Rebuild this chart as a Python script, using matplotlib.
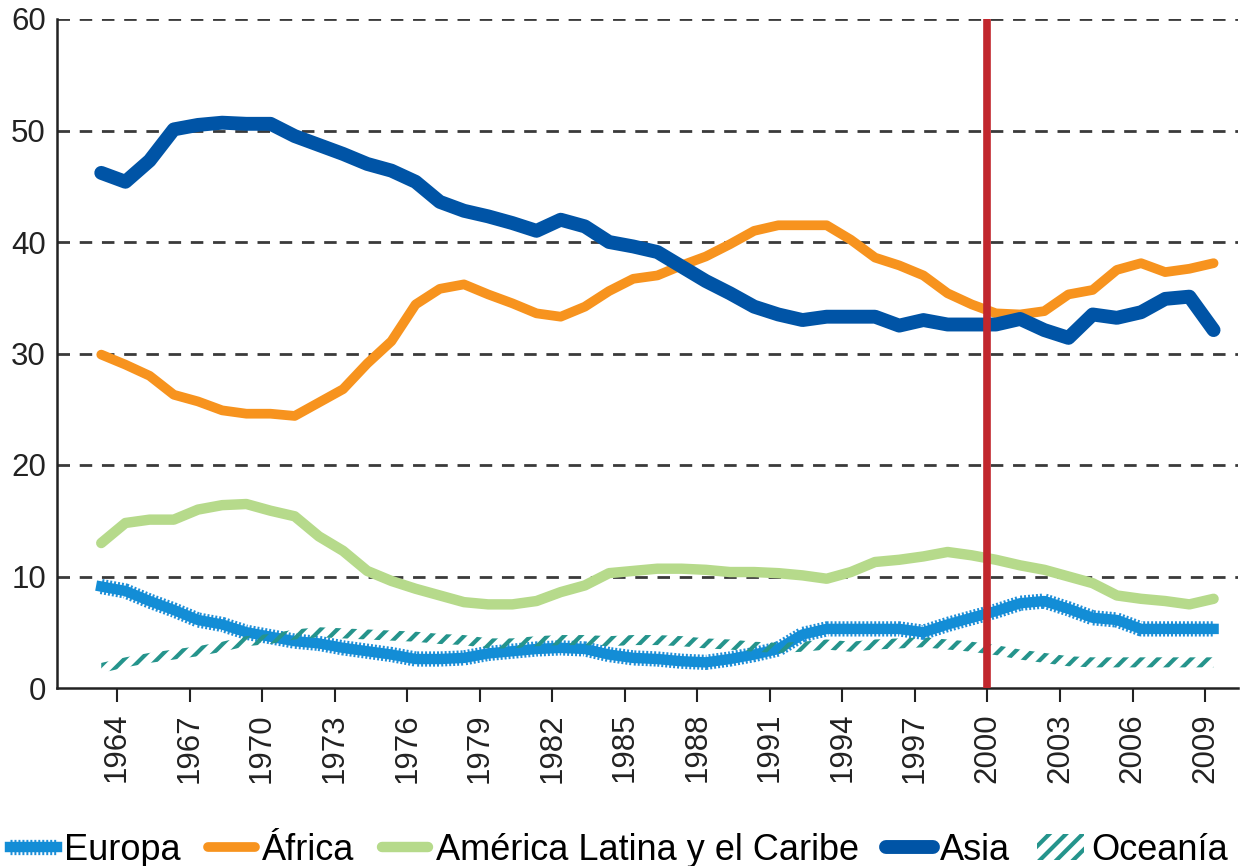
import numpy as np
import matplotlib
matplotlib.use("Agg")
import matplotlib.pyplot as plt

plt.rcParams['font.family'] = ['Liberation Sans', 'DejaVu Sans']
plt.rcParams['hatch.linewidth'] = 3.0

# data (share, %)
years = np.arange(1963, 2010)

europa = [9.1, 8.7, 7.8, 7.0, 6.1, 5.7, 5.0, 4.6, 4.2, 4.0,
          3.6, 3.3, 3.0, 2.6, 2.6, 2.7, 3.1, 3.3, 3.5, 3.6,
          3.5, 3.0, 2.7, 2.6, 2.4, 2.3, 2.6, 3.0, 3.5, 4.8,
          5.3, 5.3, 5.3, 5.3, 5.0, 5.7, 6.3, 6.9, 7.6, 7.8,
          7.1, 6.3, 6.1, 5.3, 5.3, 5.3, 5.3]
africa = [29.9, 29.0, 28.0, 26.3, 25.7, 24.9, 24.6, 24.6, 24.4, 25.6,
          26.8, 29.1, 31.1, 34.4, 35.8, 36.2, 35.3, 34.5, 33.6, 33.3,
          34.2, 35.6, 36.7, 37.0, 37.9, 38.7, 39.8, 41.0, 41.5, 41.5,
          41.5, 40.2, 38.6, 37.9, 37.0, 35.4, 34.4, 33.6, 33.5, 33.8,
          35.3, 35.7, 37.5, 38.1, 37.3, 37.6, 38.1]
america = [13.0, 14.8, 15.1, 15.1, 16.0, 16.4, 16.5, 15.9, 15.4, 13.6,
           12.3, 10.5, 9.6, 8.9, 8.3, 7.7, 7.5, 7.5, 7.8, 8.6,
           9.2, 10.3, 10.5, 10.7, 10.7, 10.6, 10.4, 10.4, 10.3, 10.1,
           9.8, 10.4, 11.3, 11.5, 11.8, 12.2, 11.9, 11.5, 11.0, 10.6,
           10.0, 9.4, 8.3, 8.0, 7.8, 7.5, 8.0]
asia = [46.2, 45.4, 47.3, 50.1, 50.5, 50.7, 50.6, 50.6, 49.5, 48.7,
        47.9, 47.0, 46.4, 45.4, 43.6, 42.8, 42.3, 41.7, 41.0, 42.0,
        41.4, 40.0, 39.6, 39.1, 37.8, 36.5, 35.4, 34.2, 33.5, 33.0,
        33.3, 33.3, 33.3, 32.5, 33.0, 32.6, 32.6, 32.6, 33.1, 32.1,
        31.4, 33.5, 33.2, 33.7, 34.9, 35.1, 32.1]
oceania = [1.8, 2.3, 2.7, 3.0, 3.3, 3.7, 4.2, 4.4, 4.8, 5.0,
           4.9, 4.8, 4.7, 4.6, 4.4, 4.3, 4.0, 4.0, 4.2, 4.3,
           4.3, 4.2, 4.3, 4.3, 4.2, 4.0, 3.9, 3.7, 3.6, 3.7,
           3.9, 3.7, 3.9, 4.0, 4.1, 3.9, 3.7, 3.4, 3.0, 2.7,
           2.4, 2.3, 2.3, 2.3, 2.3, 2.3, 2.3]

tick_years = np.arange(1964, 2010, 3)
y_ticks = [0, 10, 20, 30, 40, 50, 60]
marker_year = 2000

labels = ["Europa", "África", "América Latina y el Caribe", "Asia", "Oceanía"]

# points sit a bit right of the year ticks in the original
x = years + 0.35

fig = plt.figure(figsize=(12.53, 8.66), dpi=100)
ax = fig.add_axes([57 / 1253, 1 - 688 / 866, (1238 - 57) / 1253, (688 - 19) / 866])

# gridlines
for v in y_ticks[1:]:
    ax.axhline(v, color='#3a3a3a', lw=2.0, linestyle=(0, (4.5, 3.5)), zorder=1)

# Europa: fuzzy edged line
eu_outer, = ax.plot(x, europa, color='#1f8fd8', lw=11, linestyle=(0, (0.13, 0.13)),
                    dash_capstyle='butt', zorder=2)
eu_core, = ax.plot(x, europa, color='#138dd6', lw=7.5, solid_joinstyle='round', zorder=2)

af, = ax.plot(x, africa, color='#f7931e', lw=7, solid_joinstyle='round',
              solid_capstyle='round', zorder=3)
am, = ax.plot(x, america, color='#b6da8b', lw=7.5, solid_joinstyle='round',
              solid_capstyle='round', zorder=3)
asi, = ax.plot(x, asia, color='#0054a6', lw=10, solid_joinstyle='round',
               solid_capstyle='round', zorder=4)

oc_arr = np.array(oceania)
oc = ax.fill_between(x, oc_arr - 0.45, oc_arr + 0.45, facecolor='none', edgecolor='#25948c',
                     hatch='//', linewidth=0, zorder=5)

ax.axvline(marker_year, color='#c1272d', lw=5.5, zorder=6)

ax.set_xlim(1961.52, 2010.36)
ax.set_ylim(0, 60)
ax.set_xticks(tick_years)
ax.set_xticklabels([str(t) for t in tick_years], rotation=90, fontsize=22.5)
ax.set_yticks(y_ticks)
ax.set_yticklabels([str(t) for t in y_ticks], fontsize=22.5)
ax.tick_params(axis='x', length=10, width=1.5, direction='out', pad=8, colors='#222222')
ax.tick_params(axis='y', length=0, pad=8, colors='#222222')

for side in ['top', 'right']:
    ax.spines[side].set_visible(False)
for side in ['left', 'bottom']:
    ax.spines[side].set_linewidth(1.8)
    ax.spines[side].set_color('#222222')

fig.legend([(eu_outer, eu_core), af, am, asi, oc], labels,
           loc='center left', bbox_to_anchor=(10 / 1253, 1 - 850 / 866),
           ncol=5, frameon=False, fontsize=26, handlelength=1.3,
           handletextpad=0.2, columnspacing=0.75, borderpad=0, borderaxespad=0)

fig.savefig("out.png", dpi=100)
